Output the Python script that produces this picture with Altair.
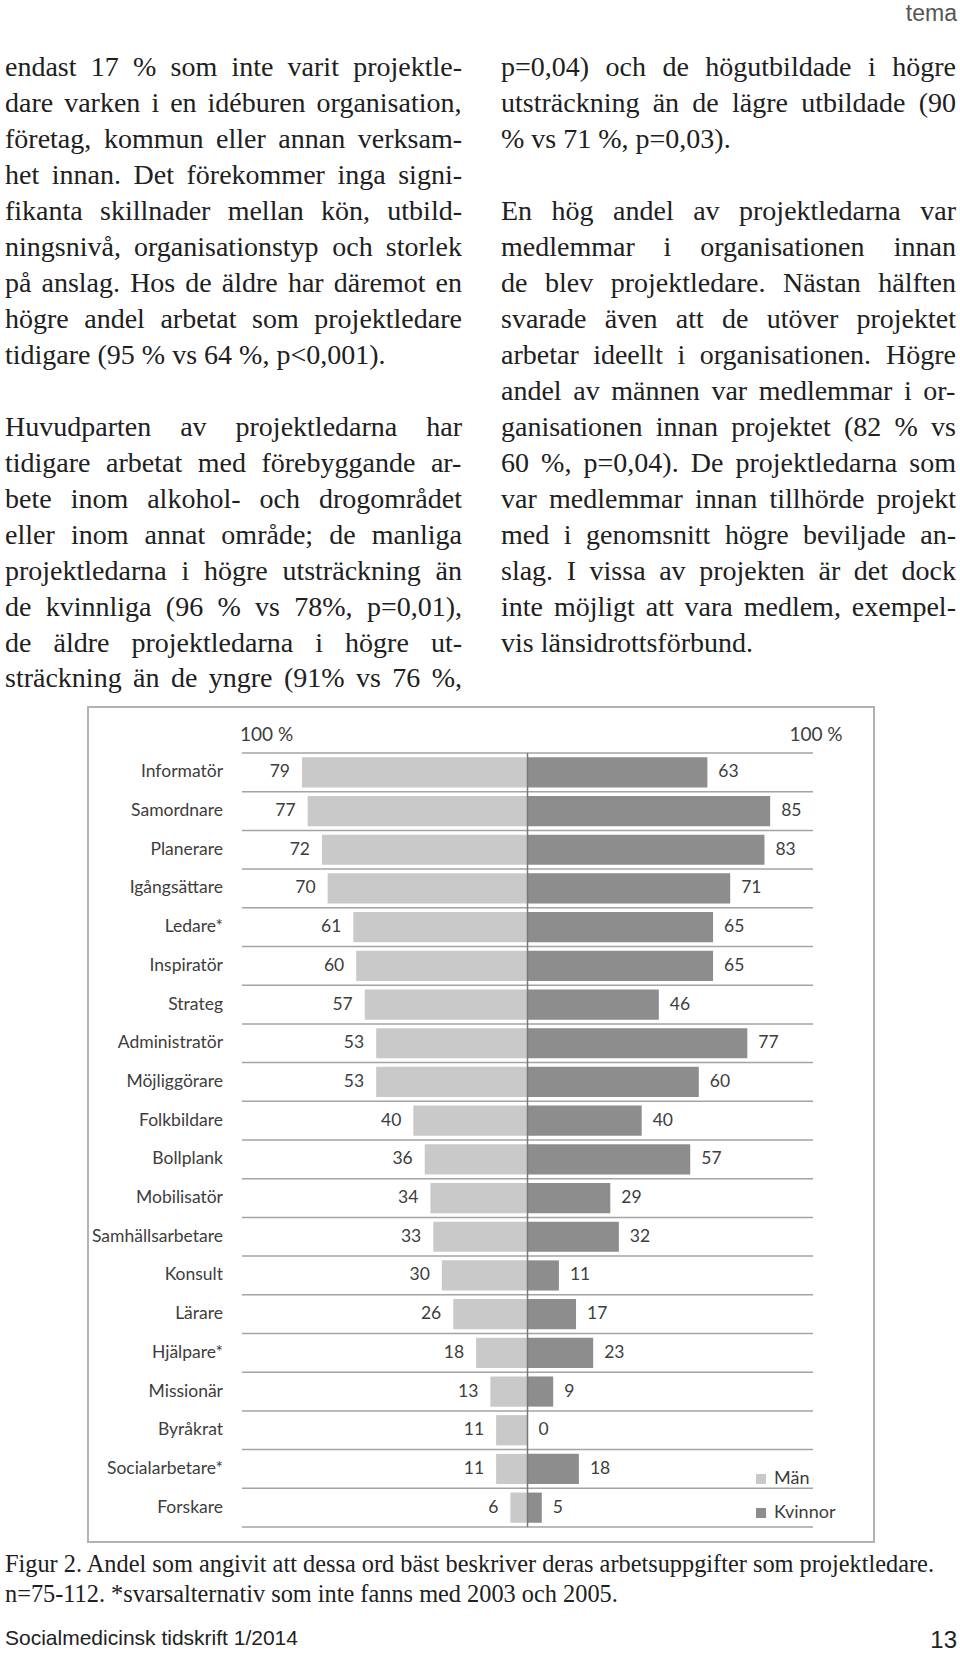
import altair as alt
import pandas as pd

# ---------------- chart data ----------------
categories = ["Informatör", "Samordnare", "Planerare", "Igångsättare", "Ledare*",
              "Inspiratör", "Strateg", "Administratör", "Möjliggörare", "Folkbildare",
              "Bollplank", "Mobilisatör", "Samhällsarbetare", "Konsult", "Lärare",
              "Hjälpare*", "Missionär", "Byråkrat", "Socialarbetare*", "Forskare"]
men = [79, 77, 72, 70, 61, 60, 57, 53, 53, 40, 36, 34, 33, 30, 26, 18, 13, 11, 11, 6]
women = [63, 85, 83, 71, 65, 65, 46, 77, 60, 40, 57, 29, 32, 11, 17, 23, 9, 0, 18, 5]
series = ["Män", "Kvinnor"]
series_colors = ["#c9c9c9", "#8d8d8d"]
scale_end_label = "100 %"
x_domain = [-100, 100]

# ---------------- page text ----------------
left_p1 = [
    "endast 17 % som inte varit projektle-",
    "dare varken i en idéburen organisation,",
    "företag, kommun eller annan verksam-",
    "het innan. Det förekommer inga signi-",
    "fikanta skillnader mellan kön, utbild-",
    "ningsnivå, organisationstyp och storlek",
    "på anslag. Hos de äldre har däremot en",
    "högre andel arbetat som projektledare",
    "tidigare (95 % vs 64 %, p<0,001).",
]
left_p2 = [
    "Huvudparten av projektledarna har",
    "tidigare arbetat med förebyggande ar-",
    "bete inom alkohol- och drogområdet",
    "eller inom annat område; de manliga",
    "projektledarna i högre utsträckning än",
    "de kvinnliga (96 % vs 78%, p=0,01),",
    "de äldre projektledarna i högre ut-",
    "sträckning än de yngre (91% vs 76 %,",
]
right_p1 = [
    "p=0,04) och de högutbildade i högre",
    "utsträckning än de lägre utbildade (90",
    "% vs 71 %, p=0,03).",
]
right_p2 = [
    "En hög andel av projektledarna var",
    "medlemmar i organisationen innan",
    "de blev projektledare. Nästan hälften",
    "svarade även att de utöver projektet",
    "arbetar ideellt i organisationen. Högre",
    "andel av männen var medlemmar i or-",
    "ganisationen innan projektet (82 % vs",
    "60 %, p=0,04). De projektledarna som",
    "var medlemmar innan tillhörde projekt",
    "med i genomsnitt högre beviljade an-",
    "slag. I vissa av projekten är det dock",
    "inte möjligt att vara medlem, exempel-",
    "vis länsidrottsförbund.",
]
caption = [
    "Figur 2. Andel som angivit att dessa ord bäst beskriver deras arbetsuppgifter som projektledare.",
    "n=75-112. *svarsalternativ som inte fanns med 2003 och 2005.",
]
header_text = "tema"
footer_text = "Socialmedicinsk tidskrift 1/2014"
page_number = "13"

# Times / Liberation Serif advance widths (1/1000 em)
TW = {' ': 250, '!': 333, '%': 833, '(': 333, ')': 333, '*': 500, ',': 250, '-': 333,
      '.': 250, '/': 278, ':': 278, ';': 278, '<': 564, '=': 564, '>': 564, '?': 444,
      'A': 722, 'B': 667, 'C': 667, 'D': 722, 'E': 611, 'F': 556, 'G': 722, 'H': 722,
      'I': 333, 'J': 389, 'K': 722, 'L': 611, 'M': 889, 'N': 722, 'O': 722, 'P': 556,
      'Q': 722, 'R': 667, 'S': 556, 'T': 611, 'U': 722, 'V': 722, 'W': 944, 'X': 722,
      'Y': 722, 'Z': 611,
      'a': 444, 'b': 500, 'c': 444, 'd': 500, 'e': 444, 'f': 333, 'g': 500, 'h': 500,
      'i': 278, 'j': 278, 'k': 500, 'l': 278, 'm': 778, 'n': 500, 'o': 500, 'p': 500,
      'q': 500, 'r': 333, 's': 389, 't': 278, 'u': 500, 'v': 500, 'w': 722, 'x': 500,
      'y': 500, 'z': 444, 'ä': 444, 'å': 444, 'ö': 500, 'é': 444, 'Ä': 722, 'Å': 722,
      'Ö': 722}
for d in "0123456789":
    TW[d] = 500


def text_width(s, fs):
    return sum(TW.get(c, 500) for c in s) * fs / 1000.0


BODY_FS = 28
BASE = 76
LEAD = 35.97


def paragraph_words(lines, x0, x1, k0, justify_last=False):
    rows = []
    for i, line in enumerate(lines):
        words = line.split(" ")
        widths = [text_width(w, BODY_FS) for w in words]
        last = i == len(lines) - 1
        if (last and not justify_last) or len(words) == 1:
            gap = TW[' '] * BODY_FS / 1000.0
        else:
            gap = max((x1 - x0 - sum(widths)) / (len(words) - 1), 3)
        x = x0
        y = BASE + (k0 + i) * LEAD
        for w, wd in zip(words, widths):
            rows.append({"w": w, "x": x, "y": y})
            x += wd + gap
    return rows


words = (paragraph_words(left_p1, 5, 462, 0)
         + paragraph_words(left_p2, 5, 462, 10, justify_last=True)
         + paragraph_words(right_p1, 501, 956, 0)
         + paragraph_words(right_p2, 501, 956, 4))
words_df = pd.DataFrame(words)

CAP_FS = 931 / (text_width(caption[0], 1000) / 1000.0)
cap_df = pd.DataFrame({"t": caption, "x": [5, 5], "y": [1572, 1602]})

# ---------------- chart layers ----------------
N = len(categories)
xs = alt.Scale(domain=x_domain, range=[242, 813], nice=False, zero=False)
ys = alt.Scale(domain=categories, range=[753, 1527], paddingInner=0, paddingOuter=0)
idx_s = alt.Scale(domain=[0, N], range=[753, 1527], nice=False, zero=False)

LABEL_FONT = "Lato"
LABEL_COLOR = "#3d3d3d"

bars_df = pd.DataFrame({"cat": categories, series[0]: men, series[1]: women})

base = alt.Chart(bars_df).transform_fold(series, as_=["series", "value"]).transform_calculate(
    signed=f"datum.series == '{series[0]}' ? -datum.value : datum.value", zero="0")

ypos = alt.Y("cat:N", scale=ys, axis=None)

bars = base.mark_bar(height={"band": 0.78}).encode(
    x=alt.X("signed:Q", scale=xs, axis=None),
    x2="zero:Q",
    y=ypos,
    color=alt.Color("series:N", scale=alt.Scale(domain=series, range=series_colors),
                    legend=alt.Legend(orient="none", legendX=752, legendY=1470, title=None,
                                      direction="vertical", symbolType="square",
                                      symbolSize=100, symbolStrokeWidth=0, symbolOpacity=1,
                                      labelFont=LABEL_FONT, labelFontSize=18,
                                      labelColor=LABEL_COLOR, rowPadding=16,
                                      labelOffset=4, padding=0)),
)

lab_m = base.transform_filter(f"datum.series == '{series[0]}'").mark_text(
    align="right", baseline="middle", dx=-12, font=LABEL_FONT, fontSize=17.5,
    color=LABEL_COLOR).encode(x=alt.X("signed:Q", scale=xs, axis=None), y=ypos,
                              text="value:Q")
lab_w = base.transform_filter(f"datum.series == '{series[1]}'").mark_text(
    align="left", baseline="middle", dx=11, font=LABEL_FONT, fontSize=17.5,
    color=LABEL_COLOR).encode(x=alt.X("signed:Q", scale=xs, axis=None), y=ypos,
                              text="value:Q")

cat_labels = alt.Chart(bars_df).transform_calculate(lo=str(x_domain[0])).mark_text(
    align="right", baseline="middle", dx=-19, font=LABEL_FONT, fontSize=17.5,
    color=LABEL_COLOR).encode(x=alt.X("lo:Q", scale=xs, axis=None), y=ypos, text="cat:N")

top_df = pd.DataFrame({"t": [scale_end_label] * 2, "pos": x_domain,
                       "cat": [categories[0]] * 2})
top_left = alt.Chart(top_df).transform_filter("datum.pos < 0").mark_text(
    align="left", baseline="middle", dx=-2, dy=-37, font=LABEL_FONT, fontSize=19,
    color=LABEL_COLOR).encode(x=alt.X("pos:Q", scale=xs, axis=None), y=ypos, text="t:N")
top_right = alt.Chart(top_df).transform_filter("datum.pos > 0").mark_text(
    align="center", baseline="middle", dx=3, dy=-37, font=LABEL_FONT, fontSize=19,
    color=LABEL_COLOR).encode(x=alt.X("pos:Q", scale=xs, axis=None), y=ypos, text="t:N")

grid_df = pd.DataFrame({"idx": list(range(N + 1))})
grid = alt.Chart(grid_df).transform_calculate(
    lo=str(x_domain[0]), hi=str(x_domain[1])).mark_rule(color="#a3a3a3", strokeWidth=1.5).encode(
    x=alt.X("lo:Q", scale=xs, axis=None), x2="hi:Q",
    y=alt.Y("idx:Q", scale=idx_s, axis=None))

center = alt.Chart(pd.DataFrame({"top": [0], "bottom": [N]})).transform_calculate(
    zero="0").mark_rule(color="#787878", strokeWidth=1.5).encode(
    x=alt.X("zero:Q", scale=xs, axis=None),
    y=alt.Y("top:Q", scale=idx_s, axis=None), y2="bottom:Q")

frame = alt.Chart(pd.DataFrame({"a": [0]})).mark_rect(
    filled=False, color="#b3b3b3", strokeWidth=2).encode(
    x=alt.value(88), x2=alt.value(874), y=alt.value(707), y2=alt.value(1542))

body = alt.Chart(words_df).mark_text(
    align="left", baseline="alphabetic", font="Liberation Serif", fontSize=BODY_FS,
    color="#202020").encode(x=alt.X("x:Q", scale=None), y=alt.Y("y:Q", scale=None),
                            text="w:N")

cap = alt.Chart(cap_df).mark_text(
    align="left", baseline="alphabetic", font="Liberation Serif", fontSize=CAP_FS,
    color="#202020").encode(x=alt.X("x:Q", scale=None), y=alt.Y("y:Q", scale=None),
                            text="t:N")

header = alt.Chart(pd.DataFrame({"t": [header_text], "x": [957], "y": [21]})).mark_text(
    align="right", baseline="alphabetic", font="Liberation Sans", fontSize=23,
    color="#555555").encode(x=alt.X("x:Q", scale=None), y=alt.Y("y:Q", scale=None),
                            text="t:N")

footer = alt.Chart(pd.DataFrame({"t": [footer_text], "x": [5], "y": [1645]})).mark_text(
    align="left", baseline="alphabetic", font="Liberation Sans", fontSize=21,
    color="#222222").encode(x=alt.X("x:Q", scale=None), y=alt.Y("y:Q", scale=None),
                            text="t:N")

pnum = alt.Chart(pd.DataFrame({"t": [page_number], "x": [957], "y": [1648]})).mark_text(
    align="right", baseline="alphabetic", font="Liberation Sans", fontSize=24,
    color="#222222").encode(x=alt.X("x:Q", scale=None), y=alt.Y("y:Q", scale=None),
                            text="t:N")

chart = alt.layer(
    frame, grid, bars, center, lab_m, lab_w, cat_labels, top_left, top_right,
    body, cap, header, footer, pnum
).resolve_scale(x="independent", y="independent").properties(
    width=960, height=1653, autosize=alt.AutoSizeParams(type="none"), padding=0,
    background="white"
).configure_view(stroke=None)

chart.save("out.html", embed_options={"renderer": "svg", "actions": False})
